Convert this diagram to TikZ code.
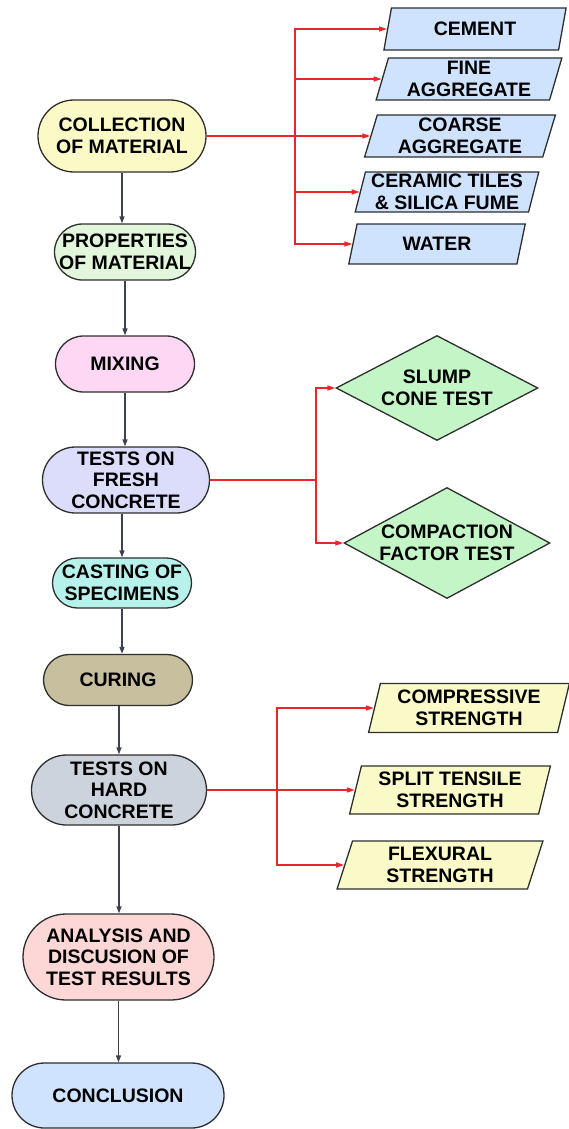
\documentclass[tikz,border=0pt]{standalone}
\usepackage{fontspec}
\setmainfont{Liberation Sans}
\usetikzlibrary{shapes.geometric,arrows.meta}
\definecolor{cYel}{HTML}{FBFAC6}
\definecolor{cProp}{HTML}{E2F6DC}
\definecolor{cMix}{HTML}{FDD7F4}
\definecolor{cFresh}{HTML}{DCDCFB}
\definecolor{cCast}{HTML}{B6F2EB}
\definecolor{cCure}{HTML}{C8BF9F}
\definecolor{cHard}{HTML}{CDD3DD}
\definecolor{cAna}{HTML}{FDD6D6}
\definecolor{cBlue}{HTML}{CFE2FE}
\definecolor{cDia}{HTML}{C3F5C6}
\definecolor{cPale}{HTML}{FAFAC8}
\definecolor{cRed}{HTML}{E8262B}
\definecolor{cGray}{HTML}{3C4350}
\definecolor{cLine}{HTML}{2E2E2E}
\begin{document}
\begin{tikzpicture}[x=1pt,y=-1pt,
  every node/.style={font=\bfseries\fontsize{19.5}{21.7}\selectfont, align=center, inner sep=0pt, text=black},
  stad/.style n args={3}{rectangle, draw=cLine, line width=1.3pt, fill=#3,
    minimum width=#1, minimum height=#2, rounded corners={#2/2}},
  para/.style n args={3}{trapezium, trapezium left angle=75, trapezium right angle=105,
    trapezium stretches=true, draw=cLine, line width=1.3pt, fill=#3,
    minimum width=#1, minimum height=#2},
  dia/.style n args={2}{diamond, draw=cLine, line width=1.3pt, fill=cDia,
    minimum width=#1, minimum height=#2},
  garrow/.style={draw=cGray, line width=1.4pt, -{Triangle[length=7pt,width=5pt]}},
  rarrow/.style={draw=cRed, line width=1.4pt, -{Triangle[length=8pt,width=5pt]}}
]
\useasboundingbox (0,0) rectangle (568,1129);

% main column
\node[stad={168pt}{72pt}{cYel}] (coll) at (122,136) {COLLECTION\\OF MATERIAL};
\node[stad={141pt}{56pt}{cProp}] (prop) at (125,252) {PROPERTIES\\OF MATERIAL};
\node[stad={139pt}{56pt}{cMix}] (mix) at (125,364) {MIXING};
\node[stad={167pt}{66pt}{cFresh}] (fresh) at (126,480) {TESTS ON\\FRESH\\CONCRETE};
\node[stad={139pt}{50pt}{cCast}] (cast) at (122,583) {CASTING OF\\SPECIMENS};
\node[stad={149pt}{51pt}{cCure}] (cure) at (118,680) {CURING};
\node[stad={175pt}{70pt}{cHard}] (hard) at (119,790) {TESTS ON\\HARD\\CONCRETE};
\node[stad={191pt}{86pt}{cAna}] (ana) at (118.5,957) {ANALYSIS AND\\DISCUSION OF\\TEST RESULTS};
\node[stad={212pt}{65pt}{cBlue}] (conc) at (118,1095.5) {CONCLUSION};

% materials
\node[para={183pt}{42pt}{cBlue}] (cem) at (475,29) {CEMENT};
\node[para={186pt}{42pt}{cBlue}] (fine) at (469,79) {FINE\\AGGREGATE};
\node[para={191pt}{42pt}{cBlue}] (coarse) at (460,136) {COARSE\\AGGREGATE};
\node[para={184pt}{40pt}{cBlue}] (cer) at (447,192) {CERAMIC TILES\\\& SILICA FUME};
\node[para={177pt}{40pt}{cBlue}] (wat) at (437,244) {WATER};

% fresh tests
\node[dia={202pt}{105pt}] (slump) at (437,388) {};
\node (slumpT) at (slump.center) {SLUMP\\CONE TEST};
\node[dia={206pt}{111pt}] (comp) at (447,543) {};
\node (compT) at (comp.center) {COMPACTION\\FACTOR TEST};

% hard tests
\node[para={201pt}{49pt}{cPale}] (cs) at (469,708) {COMPRESSIVE\\STRENGTH};
\node[para={201pt}{48pt}{cPale}] (st) at (450,790) {SPLIT TENSILE\\STRENGTH};
\node[para={206pt}{48pt}{cPale}] (fl) at (440,865) {FLEXURAL\\STRENGTH};

% main flow arrows
\draw[garrow] (coll.south) -- (coll.south |- prop.north);
\draw[garrow] (prop.south) -- (prop.south |- mix.north);
\draw[garrow] (mix.south) -- (mix.south |- fresh.north);
\draw[garrow] (cast.north |- fresh.south) -- (cast.north);
\draw[garrow] (cast.south) -- (cast.south |- cure.north);
\draw[garrow] (hard.north |- cure.south) -- (hard.north);
\draw[garrow] (hard.south) -- (hard.south |- ana.north);
\draw[garrow] (ana.south) -- (ana.south |- conc.north);

% material branches
\coordinate (t1) at (295,136);
\foreach \n in {cem,fine,coarse,cer,wat}
  \draw[rarrow] (coll.east) -- (t1) |- (\n.west);

% fresh branches
\coordinate (t2) at (316,480);
\foreach \n in {slump,comp}
  \draw[rarrow] (fresh.east) -- (t2) |- (\n.west);

% hard branches
\coordinate (t3) at (277,790);
\foreach \n in {cs,st,fl}
  \draw[rarrow] (hard.east) -- (t3) |- (\n.west);
\end{tikzpicture}
\end{document}
